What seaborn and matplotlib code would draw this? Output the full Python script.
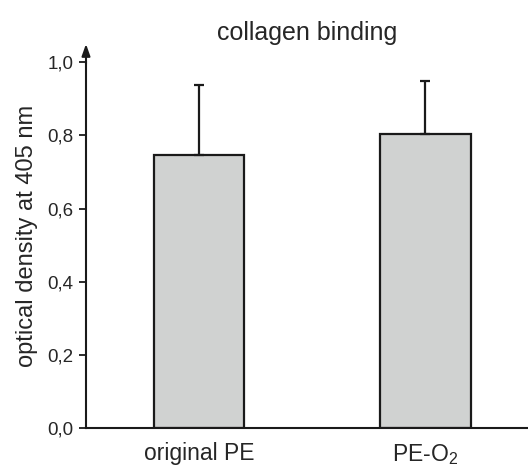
import matplotlib
matplotlib.use("Agg")
import matplotlib.pyplot as plt
import seaborn as sns
import pandas as pd

categories = ["original PE", "PE-O$_\\mathregular{2}$"]
values = [0.746, 0.803]
errors = [0.191, 0.145]
yticks = [0.0, 0.2, 0.4, 0.6, 0.8, 1.0]
ytick_labels = ["0,0", "0,2", "0,4", "0,6", "0,8", "1,0"]
title = "collagen binding"
ylabel = "optical density at 405 nm"

sns.set_style("white")
plt.rcParams["font.family"] = ["Liberation Sans", "DejaVu Sans"]
plt.rcParams["mathtext.default"] = "regular"

df = pd.DataFrame({"cat": categories, "val": values})

fig = plt.figure(figsize=(5.28, 4.67), dpi=100)
ax = fig.add_axes([86 / 528, 1 - 428 / 467, 1 - 86 / 528, (428 - 44) / 467])

sns.barplot(data=df, x="cat", y="val", ax=ax, color="#d0d2d1", width=0.4,
            edgecolor="#1a1a1a", linewidth=1.6, errorbar=None, saturation=1)
ax.errorbar(range(len(values)), values, yerr=[[0] * len(errors), errors],
            fmt="none", ecolor="#1a1a1a", elinewidth=1.6, capsize=3.6, capthick=1.6,
            zorder=1)

ax.set_xlim(-0.5, 1.453)
ax.set_ylim(0, 1.05)
ax.set_yticks(yticks)
ax.set_yticklabels(ytick_labels)
ax.set_xlabel("")
ax.set_ylabel(ylabel, fontsize=17, labelpad=7)
ax.set_title(title, fontsize=18, pad=3)

for s in ["top", "right"]:
    ax.spines[s].set_visible(False)
for s in ["left", "bottom"]:
    ax.spines[s].set_color("#1a1a1a")
    ax.spines[s].set_linewidth(1.5)
ax.spines["left"].set_bounds(0, 1.0)

ax.tick_params(axis="y", length=5, width=1.3, direction="out", pad=4,
               labelsize=13.5, color="#1a1a1a", left=True)
ax.tick_params(axis="x", length=0, pad=10, labelsize=16.5)

ax.annotate("", xy=(0, 1.05), xytext=(0, 0.995),
            xycoords=("axes fraction", "data"), textcoords=("axes fraction", "data"),
            arrowprops=dict(arrowstyle="-|>,head_length=0.7,head_width=0.25",
                            color="#1a1a1a", lw=1.5, shrinkA=0, shrinkB=0),
            annotation_clip=False)

fig.savefig("out.png", dpi=100)
